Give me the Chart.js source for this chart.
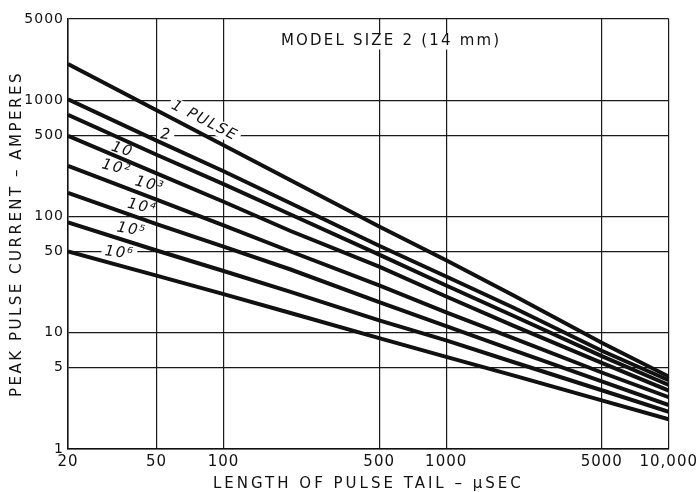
<!DOCTYPE html>
<html>
<head>
<meta charset="utf-8">
<script src="https://cdn.jsdelivr.net/npm/chart.js@4.4.1/dist/chart.umd.min.js"></script>
<style>
  html, body { margin: 0; padding: 0; background: #fff; }
  #wrap { width: 699px; height: 492px; }
</style>
</head>
<body>
<div id="wrap"><canvas id="pulseChart" width="699" height="492"></canvas></div>
<script>
const tailLengths = [20, 50, 100, 200, 500, 1000, 2000, 5000, 10000];

// peak pulse current (A) for each pulse count
const pulses1 = [2050, 820, 410, 205, 82, 42, 21, 8.2, 4.2];
const pulses2 = [1020, 450, 245, 130, 56, 30.5, 16.5, 7, 3.9];
const pulses10 = [750, 340, 190, 104, 47, 25.5, 14, 6.3, 3.55];
const pulses100 = [495, 235, 134, 75, 37, 20.5, 11.5, 5.5, 3.18];
const pulses1k = [272, 140, 84, 50, 25.5, 15, 9, 4.55, 2.79];
const pulses10k = [160, 86, 55, 35, 18.3, 11.4, 7.1, 3.82, 2.39];
const pulses100k = [89, 51, 34, 22.5, 12.8, 8.6, 5.6, 3.2, 2.09];
const pulses1M = [50, 31, 21.5, 14.8, 9, 6.2, 4.3, 2.62, 1.8];

const curveLabels = ["1 PULSE", "2", "10", "10²", "10³", "10⁴", "10⁵", "10⁶"];

const xTicks = [20, 50, 100, 500, 1000, 5000, 10000];
const xTickLabels = ["20", "50", "100", "500", "1000", "5000", "10,000"];
const yTicks = [1, 5, 10, 50, 100, 500, 1000, 5000];
const yTickLabels = ["1", "5", "10", "50", "100", "500", "1000", "5000"];

const seriesList = [pulses1, pulses2, pulses10, pulses100, pulses1k, pulses10k, pulses100k, pulses1M];

// ------------------------------
// LABEL PLACEMENT (chart units + tilt)
// ------------------------------
const labelSpots = [
  { at: [82, 665], tilt: 27, boxed: true },
  { at: [55, 504], tilt: 6, boxed: true },
  { at: [35, 374], tilt: 18, boxed: false },
  { at: [33, 262], tilt: 14, boxed: false },
  { at: [46.5, 187], tilt: 14, boxed: false },
  { at: [43, 121], tilt: 12, boxed: false },
  { at: [38.6, 76.7], tilt: 10, boxed: false },
  { at: [34, 48.6], tilt: 6, boxed: true }
];

function drawTag(ctx, text, px, py, tilt, font, spacing, boxed) {
  ctx.save();
  ctx.translate(px, py);
  ctx.rotate(tilt * Math.PI / 180);
  ctx.font = font;
  ctx.letterSpacing = spacing;
  const w = ctx.measureText(text).width;
  if (boxed) {
    ctx.fillStyle = "#fff";
    ctx.fillRect(-w / 2 - 3, -8, w + 6, 16);
  }
  ctx.fillStyle = "#111";
  ctx.textAlign = "center";
  ctx.textBaseline = "middle";
  ctx.fillText(text, 0, 0);
  ctx.restore();
}

const textLayer = {
  id: "textLayer",
  beforeDraw(chart) {
    chart.ctx.letterSpacing = "1px";
  },
  // labels go under the curves so their white boxes only break the grid
  beforeDatasetsDraw(chart) {
    const { ctx, scales: { x, y } } = chart;

    drawTag(ctx, "MODEL SIZE 2 (14 mm)", x.getPixelForValue(566), y.getPixelForValue(3200),
      0, "15px 'DejaVu Sans'", "2.2px", true);

    curveLabels.forEach((txt, i) => {
      const spot = labelSpots[i];
      drawTag(ctx, txt, x.getPixelForValue(spot.at[0]), y.getPixelForValue(spot.at[1]),
        spot.tilt, "italic 15px 'DejaVu Sans'", "1.5px", spot.boxed);
    });
  },
  afterDraw(chart) {
    const { ctx, chartArea } = chart;
    const midX = (chartArea.left + chartArea.right) / 2;
    const midY = (chartArea.top + chartArea.bottom) / 2;
    drawTag(ctx, "LENGTH OF PULSE TAIL – μSEC", midX, 484, 0, "15px 'DejaVu Sans'", "3px", false);
    drawTag(ctx, "PEAK PULSE CURRENT – AMPERES", 17, midY, -90, "15px 'DejaVu Sans'", "2.5px", false);
  }
};

// ------------------------------
// CHART
// ------------------------------
new Chart(document.getElementById("pulseChart"), {
  type: "line",
  data: {
    datasets: seriesList.map((vals, i) => ({
      label: curveLabels[i],
      data: tailLengths.map((t, j) => ({ x: t, y: vals[j] })),
      borderColor: "#111",
      borderWidth: 4,
      pointRadius: 0,
      fill: false,
      tension: 0
    }))
  },
  options: {
    responsive: false,
    animation: false,
    devicePixelRatio: 1,
    layout: { padding: { top: 19, right: 27, left: 0, bottom: 0 } },
    plugins: {
      legend: { display: false },
      tooltip: { enabled: false },
      title: { display: false }
    },
    scales: {
      x: {
        type: "logarithmic",
        min: 20,
        max: 10000,
        afterBuildTicks: (s) => { s.ticks = xTicks.map(v => ({ value: v })); },
        afterFit: (s) => { s.height = 43; },
        grid: { color: "#1a1a1a", lineWidth: 1.2, drawTicks: false },
        border: { color: "#111", width: 1.5 },
        ticks: {
          autoSkip: false,
          maxRotation: 0,
          padding: 4,
          color: "#111",
          font: { family: "DejaVu Sans", size: 15 },
          callback: (v) => xTickLabels[xTicks.indexOf(v)]
        }
      },
      y: {
        type: "logarithmic",
        min: 1,
        max: 5000,
        afterBuildTicks: (s) => { s.ticks = yTicks.map(v => ({ value: v })); },
        afterFit: (s) => { s.width = 68; },
        grid: { color: "#1a1a1a", lineWidth: 1.2, drawTicks: false },
        border: { color: "#111", width: 1.5 },
        ticks: {
          autoSkip: false,
          padding: 4,
          color: "#111",
          font: { family: "DejaVu Sans", size: 14 },
          callback: (v) => yTickLabels[yTicks.indexOf(v)]
        }
      }
    }
  },
  plugins: [textLayer]
});
</script>
</body>
</html>
